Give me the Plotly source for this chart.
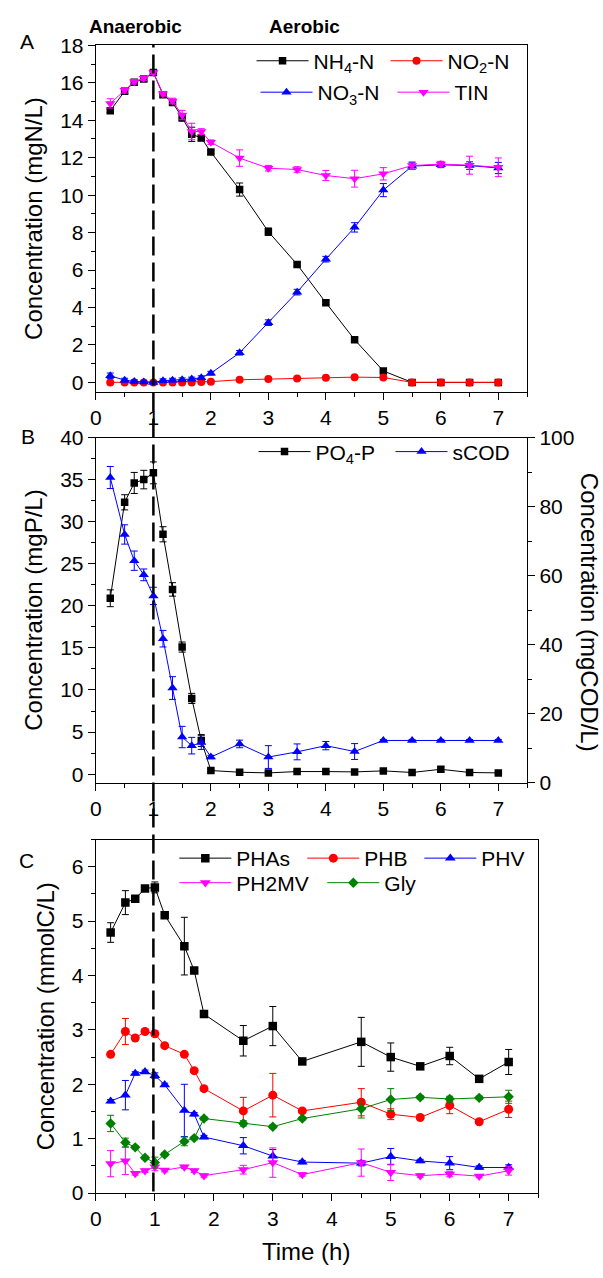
import plotly.graph_objects as go

# ---------------- data ----------------
# sampling times (h) for panels A and B
t_ab = [0.25, 0.5, 0.667, 0.833, 1, 1.167, 1.333, 1.5, 1.667, 1.833, 2,
        2.5, 3, 3.5, 4, 4.5, 5, 5.5, 6, 6.5, 7]

nh4 = [14.51, 15.55, 16.03, 16.2, 16.55, 15.37, 14.95, 14.15, 13.25, 13.06, 12.3,
       10.3, 8.05, 6.3, 4.26, 2.28, 0.61, 0, 0, 0, 0]
nh4_err = [0.1, 0.1, 0.1, 0.1, 0.1, 0.1, 0.1, 0.2, 0.38, 0.15, 0.1,
           0.35, 0.2, 0.1, 0.1, 0.1, 0.05, 0.03, 0.03, 0.03, 0.03]
no2 = [0.0, 0.0, 0.0, 0.0, 0.0, 0.0, 0.0, 0.0, 0.0, 0.02, 0.04,
       0.14, 0.18, 0.21, 0.25, 0.28, 0.26, 0, 0, 0, 0]
no2_err = [0.03] * 21
no3 = [0.35, 0.12, 0.05, 0.02, 0.0, 0.09, 0.12, 0.14, 0.18, 0.25, 0.49,
       1.58, 3.19, 4.82, 6.58, 8.28, 10.27, 11.55, 11.62, 11.58, 11.45]
no3_err = [0.15, 0.1, 0.08, 0.05, 0.05, 0.1, 0.1, 0.1, 0.1, 0.1, 0.1,
           0.12, 0.15, 0.15, 0.15, 0.25, 0.35, 0.18, 0.15, 0.2, 0.3]
tin = [14.9, 15.6, 16.06, 16.24, 16.55, 15.42, 15.03, 14.28, 13.4, 13.4, 12.83,
       11.98, 11.44, 11.37, 11.05, 10.88, 11.14, 11.58, 11.66, 11.6, 11.49]
tin_err = [0.25, 0.15, 0.12, 0.12, 0.12, 0.12, 0.15, 0.25, 0.44, 0.15, 0.12,
           0.44, 0.15, 0.15, 0.27, 0.45, 0.33, 0.2, 0.15, 0.48, 0.5]

po4 = [20.9, 32.3, 34.6, 35.0, 35.8, 28.5, 21.95, 15.1, 9.0, 4.0, 0.43,
       0.23, 0.15, 0.31, 0.31, 0.27, 0.39, 0.2, 0.58, 0.2, 0.15]
po4_err = [1.0, 0.9, 1.25, 1.1, 1.3, 0.9, 0.8, 0.6, 0.6, 0.7, 0.15,
           0.15, 0.15, 0.1, 0.1, 0.1, 0.1, 0.1, 0.3, 0.1, 0.1]
scod = [88.4, 71.9, 64.3, 60.2, 54.1, 41.7, 27.4, 13.2, 10.7, 11.6, 7.4,
        11.2, 7.4, 8.9, 10.7, 9.0, 12.2, 12.2, 12.2, 12.2, 12.2]
scod_err = [3.2, 2.8, 2.8, 1.7, 2.5, 2.4, 3.3, 3.1, 2.4, 2.0, 0.5,
            1.1, 3.3, 2.3, 1.2, 2.3, 0.3, 0.3, 0.3, 0.3, 0.3]

# sampling times (h) for panel C
t_c = [0.25, 0.5, 0.667, 0.833, 1, 1.167, 1.5, 1.667, 1.833,
       2.5, 3, 3.5, 4.5, 5, 5.5, 6, 6.5, 7]

phas = [4.79, 5.34, 5.41, 5.6, 5.62, 5.11, 4.54, 4.09, 3.29,
        2.80, 3.07, 2.42, 2.78, 2.5, 2.33, 2.52, 2.10, 2.41]
phas_err = [0.18, 0.22, 0.03, 0.03, 0.1, 0.03, 0.53, 0.03, 0.03,
            0.28, 0.36, 0.03, 0.45, 0.26, 0.03, 0.16, 0.03, 0.23]
phb = [2.55, 2.97, 2.85, 2.97, 2.93, 2.71, 2.55, 2.25, 1.92,
       1.51, 1.80, 1.51, 1.67, 1.45, 1.39, 1.61, 1.31, 1.54]
phb_err = [0.03, 0.24, 0.03, 0.03, 0.05, 0.03, 0.03, 0.03, 0.03,
           0.25, 0.4, 0.03, 0.25, 0.1, 0.03, 0.15, 0.03, 0.15]
phv = [1.69, 1.80, 2.20, 2.23, 2.16, 1.99, 1.52, 1.45, 1.03,
       0.87, 0.68, 0.57, 0.55, 0.67, 0.59, 0.55, 0.47, 0.47]
phv_err = [0.03, 0.27, 0.03, 0.03, 0.05, 0.03, 0.48, 0.03, 0.03,
           0.15, 0.12, 0.03, 0.05, 0.15, 0.03, 0.12, 0.03, 0.05]
ph2mv = [0.54, 0.59, 0.36, 0.41, 0.48, 0.42, 0.48, 0.41, 0.32,
         0.43, 0.56, 0.34, 0.56, 0.38, 0.32, 0.35, 0.31, 0.41]
ph2mv_err = [0.24, 0.25, 0.03, 0.03, 0.07, 0.03, 0.03, 0.03, 0.03,
             0.08, 0.27, 0.03, 0.25, 0.15, 0.03, 0.05, 0.03, 0.08]
gly = [1.28, 0.93, 0.84, 0.65, 0.56, 0.71, 0.95, 1.01, 1.37,
       1.28, 1.22, 1.37, 1.55, 1.72, 1.76, 1.73, 1.75, 1.77]
gly_err = [0.15, 0.08, 0.03, 0.03, 0.1, 0.03, 0.08, 0.03, 0.03,
           0.05, 0.03, 0.03, 0.17, 0.2, 0.03, 0.05, 0.03, 0.12]

# ---------------- layout geometry (pixels) ----------------
W, H = 603, 1278
FONT = "Arial, Liberation Sans, sans-serif"


def fx(p):
    return p / W


def fy(p):
    return 1 - p / H


X_L, AB_R, C_R = 90.8, 526.3, 537.5
A_T, A_B = 34.0, 386.7
B_T, B_B = 433.3, 784.7
C_T, C_B = 842.7, 1202.7

BLACK, RED, BLUE, MAGENTA, GREEN = "#000000", "#FF0000", "#0000FF", "#FF00FF", "#008000"

fig = go.Figure()


def series(x, y, err, name, color, symbol, size, xa, ya, legend, lw=None):
    fig.add_trace(go.Scatter(
        x=x, y=y, name=name, mode="lines+markers",
        xaxis=xa, yaxis=ya, legend=legend,
        line=dict(color=color, width=1),
        marker=dict(symbol=symbol, size=size, color=color, line=dict(width=0)),
        error_y=dict(type="data", array=err, visible=True, color=color,
                     thickness=1, width=3.5),
        legendwidth=lw,
    ))


# panel A
series(t_ab, nh4, nh4_err, "NH<sub>4</sub>-N", BLACK, "square", 7.5, "x", "y", "legend", 67)
series(t_ab, no2, no2_err, "NO<sub>2</sub>-N", RED, "circle", 8, "x", "y", "legend")
series(t_ab, no3, no3_err, "NO<sub>3</sub>-N", BLUE, "triangle-up", 9, "x", "y", "legend2", 70)
series(t_ab, tin, tin_err, "TIN", MAGENTA, "triangle-down", 9, "x", "y", "legend2")

# panel B
series(t_ab, po4, po4_err, "PO<sub>4</sub>-P", BLACK, "square", 7.5, "x2", "y2", "legend3", 70)
series(t_ab, scod, scod_err, "sCOD", BLUE, "triangle-up", 9, "x2", "y3", "legend3")

# panel C
series(t_c, phas, phas_err, "PHAs", BLACK, "square", 8.5, "x3", "y4", "legend4", 61)
series(t_c, phb, phb_err, "PHB", RED, "circle", 9, "x3", "y4", "legend4", 50)
series(t_c, phv, phv_err, "PHV", BLUE, "triangle-up", 9.5, "x3", "y4", "legend4")
series(t_c, ph2mv, ph2mv_err, "PH2MV", MAGENTA, "triangle-down", 9.5, "x3", "y4", "legend5", 81)
series(t_c, gly, gly_err, "Gly", GREEN, "diamond", 8, "x3", "y4", "legend5")

# ---------------- axes ----------------
def axis(**kw):
    base = dict(showline=True, linecolor="black", linewidth=1.3, mirror=True,
                ticks="outside", ticklen=7, tickwidth=1.3, tickcolor="black",
                showgrid=False, zeroline=False,
                tickfont=dict(size=21, color="black", family=FONT),
                minor=dict(ticks="outside", ticklen=4, tickwidth=1.3,
                           tickcolor="black", showgrid=False))
    base.update(kw)
    return base


def ytitle(text):
    return dict(text=text, font=dict(size=24, color="black", family=FONT), standoff=10)


x_common = dict(range=[0, 7.5], tick0=0, dtick=1)

layout_axes = dict(
    xaxis=axis(domain=[fx(X_L), fx(AB_R)], anchor="y", **x_common,
               minor_dtick=0.5),
    yaxis=axis(domain=[fy(A_B), fy(A_T)], anchor="x", range=[-0.5, 18],
               tick0=0, dtick=2, minor_dtick=1,
               title=ytitle("Concentration (mgN/L)")),
    xaxis2=axis(domain=[fx(X_L), fx(AB_R)], anchor="y2", **x_common,
                minor_dtick=0.5),
    yaxis2=axis(domain=[fy(B_B), fy(B_T)], anchor="x2", range=[-1, 40],
                tick0=0, dtick=5, minor_dtick=2.5,
                title=ytitle("Concentration (mgP/L)")),
    yaxis3=axis(overlaying="y2", anchor="x2", side="right", range=[0, 100],
                tick0=0, dtick=20, minor_dtick=10, mirror=False),
    xaxis3=axis(domain=[fx(X_L), fx(C_R)], anchor="y4", **x_common,
                minor_dtick=0.5),
    yaxis4=axis(domain=[fy(C_B), fy(C_T)], anchor="x3", range=[0, 6.5],
                tick0=0, dtick=1, minor_dtick=0.5,
                title=ytitle("Concentration (mmolC/L)")),
)

# ---------------- legends ----------------
def legend_at(x_px, y_px):
    return dict(orientation="h", x=fx(x_px), y=fy(y_px), xanchor="left",
                yanchor="middle", bgcolor="rgba(0,0,0,0)", borderwidth=0,
                itemwidth=52, tracegroupgap=0,
                font=dict(size=21, color="black", family=FONT))


legends = dict(
    legend=legend_at(248, 50),
    legend2=legend_at(252, 82),
    legend3=legend_at(250, 448),
    legend4=legend_at(170, 862),
    legend5=legend_at(170, 887),
)

# ---------------- text labels ----------------
def label(text, x_px, y_px, size=21, bold=False, angle=0):
    return dict(text=f"<b>{text}</b>" if bold else text, xref="paper", yref="paper",
                x=fx(x_px), y=fy(y_px), xanchor="center", yanchor="middle",
                showarrow=False, textangle=angle,
                font=dict(size=size, color="black", family=FONT))


annotations = [
    label("Anaerobic", 131, 15, size=19, bold=True),
    label("Aerobic", 302, 15, size=19, bold=True),
    label("A", 21.5, 30.5),
    label("B", 22, 432.5),
    label("C", 21, 864),
    label("Concentration (mgCOD/L)", 590, 611, size=24, angle=90),
    label("Time (h)", 303, 1262, size=24),
]

# anaerobic / aerobic boundary through all panels
shapes = [dict(type="line", xref="x", yref="paper", x0=1, x1=1,
               y0=fy(1201), y1=fy(33),
               line=dict(color="black", width=2.5, dash="19px,7px"))]

fig.update_layout(
    width=W, height=H,
    margin=dict(l=0, r=0, t=0, b=0),
    paper_bgcolor="white", plot_bgcolor="white",
    font=dict(family=FONT, color="black"),
    annotations=annotations, shapes=shapes,
    **layout_axes, **legends,
)

fig.write_html("out.html")
